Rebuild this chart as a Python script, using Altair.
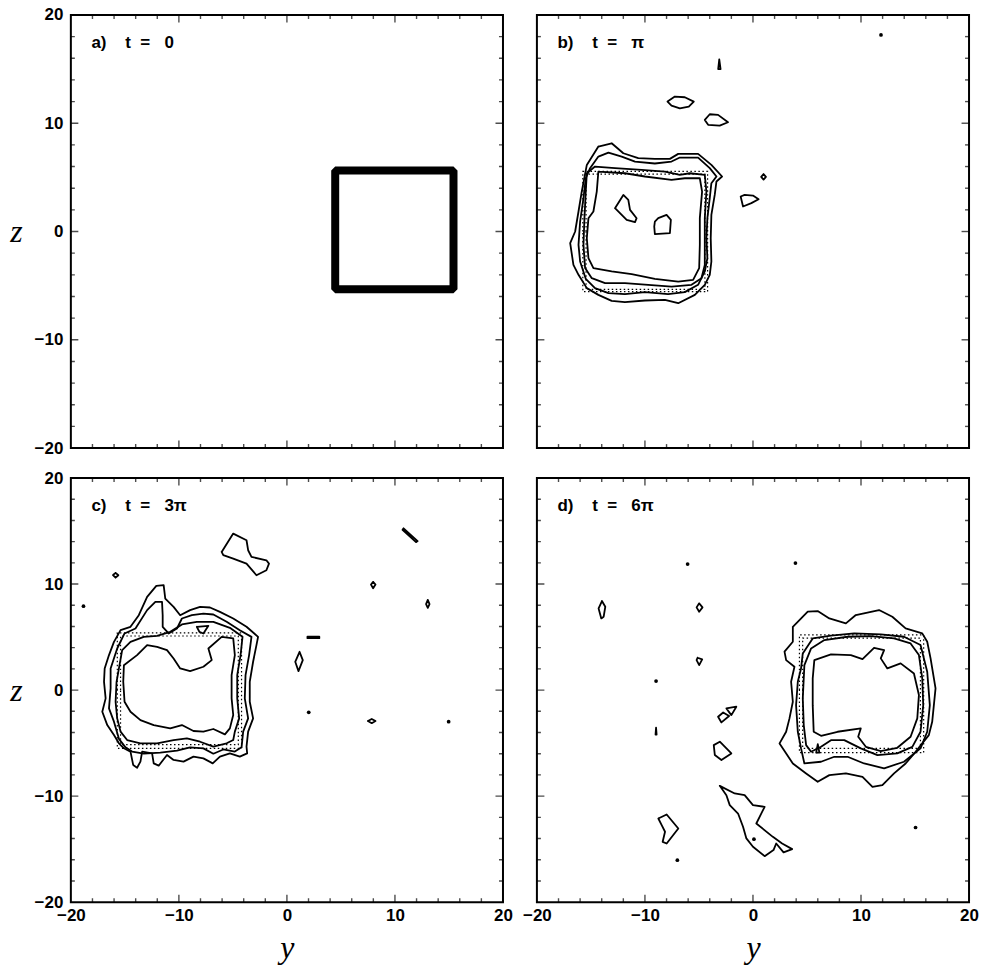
import altair as alt
import pandas as pd

DOMAIN = [-20, 20]
LABEL_VALUES = [-20, -10, 0, 10, 20]
TICK_POS = [-18, -16, -14, -12, -10, -8, -6, -4, -2, 0, 2, 4, 6, 8, 10, 12, 14, 16, 18]
MAJOR_TICKS = [-10, 0, 10]

PANEL_TEXT = {
    "a": "a)\u00a0\u00a0\u00a0\u00a0t\u00a0\u00a0=\u00a0\u00a0\u00a00",
    "b": "b)\u00a0\u00a0\u00a0\u00a0t\u00a0\u00a0=\u00a0\u00a0\u00a0\u03c0",
    "c": "c)\u00a0\u00a0\u00a0\u00a0t\u00a0\u00a0=\u00a0\u00a0\u00a03\u03c0",
    "d": "d)\u00a0\u00a0\u00a0\u00a0t\u00a0\u00a0=\u00a0\u00a0\u00a06\u03c0",
}
LABEL_POS = (-18.1, 17.4)

# ---------------- panel a (t = 0) ----------------
A_SQUARE = [(4.47, 0.0), (4.47, 5.63), (15.42, 5.63), (15.42, -5.33), (4.47, -5.33), (4.47, 0.0)]

# ---------------- panel b (t = pi) ----------------
B_RING1 = [(-14.31, 7.85), (-13.08, 8.15), (-12.0, 7.23), (-10.62, 6.77), (-9.08, 6.71), (-7.69, 6.71),
           (-6.92, 7.17), (-5.08, 7.17), (-3.85, 6.15), (-2.86, 5.08), (-3.38, 4.62), (-3.54, 3.38),
           (-3.85, 1.54), (-3.91, -0.62), (-3.85, -2.77), (-4.0, -4.0), (-4.46, -4.92), (-5.38, -5.85),
           (-6.92, -6.62), (-8.15, -6.31), (-10.0, -6.37), (-11.85, -6.52), (-13.08, -6.4), (-14.31, -5.85),
           (-15.38, -5.23), (-16.15, -4.0), (-16.62, -3.08), (-16.92, -1.08), (-16.46, 0.0), (-16.15, 1.85),
           (-15.85, 3.69), (-15.38, 6.15)]
B_RING2 = [(-15.08, 5.85), (-14.31, 6.92), (-13.38, 7.29), (-12.15, 6.92), (-10.92, 6.46), (-9.08, 6.28),
           (-7.54, 6.46), (-6.77, 6.83), (-5.08, 6.83), (-4.0, 5.85), (-3.38, 5.08), (-3.85, 4.46),
           (-4.0, 3.08), (-4.22, 1.23), (-4.31, -0.62), (-4.22, -2.46), (-4.46, -3.69), (-5.08, -4.92),
           (-6.31, -5.6), (-7.85, -5.78), (-10.0, -5.6), (-11.85, -5.78), (-13.38, -5.69), (-14.62, -5.23),
           (-15.48, -4.37), (-16.0, -2.77), (-16.15, -1.23), (-16.0, 0.92), (-15.69, 3.08), (-15.48, 4.92)]
B_RING3 = [(-15.38, 5.38), (-14.62, 6.0), (-12.77, 5.85), (-10.31, 5.69), (-8.15, 5.54), (-6.77, 5.23),
           (-5.85, 5.38), (-4.46, 5.23), (-4.31, 3.69), (-4.46, 1.23), (-4.46, -0.62), (-4.46, -3.08),
           (-4.77, -4.31), (-5.69, -4.92), (-7.54, -5.08), (-9.69, -4.92), (-11.85, -4.77), (-13.69, -4.77),
           (-14.92, -4.31), (-15.54, -3.38), (-15.69, -1.23), (-15.6, 1.23), (-15.48, 3.69)]
B_RING4 = [(-14.31, 5.54), (-11.85, 5.38), (-10.0, 5.08), (-7.54, 4.77), (-6.31, 4.92), (-4.92, 4.92),
           (-4.71, 3.69), (-4.92, 1.23), (-4.92, -1.23), (-4.98, -3.38), (-5.54, -4.46), (-6.92, -4.62),
           (-9.08, -4.37), (-11.23, -3.94), (-13.08, -3.69), (-14.77, -3.38), (-15.23, -2.46), (-15.38, -0.62),
           (-15.23, 1.23), (-14.77, 1.85), (-14.46, 3.69)]
B_ISLE1 = [(-12.77, 2.15), (-12.0, 3.38), (-11.54, 2.92), (-11.38, 2.0), (-10.77, 1.23), (-10.92, 0.86), (-11.69, 1.08)]
B_ISLE2 = [(-9.08, 0.92), (-8.77, 1.23), (-8.0, 1.54), (-7.6, 1.08), (-7.69, -0.15), (-9.08, -0.25), (-9.14, 0.46)]
B_ISLE3 = [(-7.91, 12.0), (-7.23, 12.46), (-6.31, 12.4), (-5.48, 12.0), (-5.94, 11.54), (-6.77, 11.38), (-7.54, 11.63)]
B_ISLE4 = [(-4.46, 10.31), (-4.0, 10.83), (-3.23, 10.77), (-2.31, 10.09), (-3.08, 9.78), (-4.15, 9.85)]
B_ISLE5 = [(-1.14, 3.23), (-0.77, 3.38), (0.0, 3.32), (0.52, 2.98), (-0.15, 2.62), (-0.92, 2.31)]
B_ISLE6 = [(0.98, 5.3), (1.2, 5.05), (0.98, 4.8), (0.76, 5.05)]
B_ISLE7 = [(-3.12, 15.9), (-3.0, 15.0), (-3.22, 15.0)]
B_BOX1 = [(-15.75, 0.0), (-15.75, 5.55), (-4.2, 5.55), (-4.2, -5.55), (-15.75, -5.55), (-15.75, 0.0)]
B_BOX2 = [(-15.45, 0.0), (-15.45, 5.3), (-4.45, 5.3), (-4.45, -5.35), (-15.45, -5.35), (-15.45, 0.0)]
B_DOTS = [(11.85, 18.15)]

# ---------------- panel c (t = 3 pi) ----------------
C_RING1 = [(-12.94, 8.79), (-12.09, 9.83), (-11.41, 9.89), (-11.26, 8.63), (-10.49, 7.85), (-9.88, 7.06),
           (-8.96, 7.54), (-8.04, 7.85), (-7.12, 7.79), (-6.2, 7.38), (-4.97, 6.75), (-3.74, 5.97),
           (-2.67, 5.02), (-2.82, 4.24), (-3.13, 2.67), (-3.44, 0.78), (-3.44, -1.1), (-3.13, -2.67),
           (-3.59, -3.92), (-3.74, -5.34), (-3.68, -5.97), (-4.36, -6.28), (-5.28, -5.97), (-6.2, -6.28),
           (-6.87, -6.91), (-7.73, -6.44), (-8.65, -6.28), (-9.57, -6.75), (-10.49, -6.59), (-11.1, -6.12),
           (-11.87, -7.13), (-12.33, -6.91), (-12.48, -5.97), (-13.4, -5.81), (-13.56, -6.75), (-13.87, -7.32),
           (-14.23, -7.06), (-14.48, -5.81), (-15.09, -5.49), (-15.55, -5.02), (-16.01, -4.24), (-16.63, -3.3),
           (-17.09, -2.04), (-16.78, -0.78), (-16.93, 0.78), (-16.87, 2.04), (-16.47, 3.3), (-16.01, 4.55),
           (-15.4, 5.65), (-14.48, 5.97), (-13.71, 7.06)]
C_RING2 = [(-15.71, 3.92), (-15.03, 5.34), (-14.02, 5.81), (-12.94, 7.54), (-12.18, 8.32), (-11.56, 8.32),
           (-11.5, 7.06), (-11.5, 5.97), (-10.95, 5.34), (-10.18, 5.81), (-9.72, 6.75), (-8.8, 7.06),
           (-7.73, 7.22), (-6.81, 7.13), (-5.58, 6.44), (-4.36, 5.65), (-3.28, 5.02), (-3.5, 3.3),
           (-3.83, 1.41), (-3.9, -0.78), (-3.59, -2.67), (-4.05, -3.92), (-4.2, -5.4), (-4.82, -5.8),
           (-5.89, -5.6), (-6.81, -6.0), (-7.73, -5.5), (-8.96, -5.4), (-10.18, -5.7), (-11.72, -5.9),
           (-13.25, -6.0), (-14.33, -5.8), (-14.94, -5.4), (-15.55, -4.6), (-16.01, -2.98), (-16.47, -1.73),
           (-16.32, 0.16), (-16.32, 2.04)]
C_RING3 = [(-15.55, 2.04), (-15.25, 3.77), (-14.48, 4.55), (-13.25, 5.02), (-12.02, 5.12), (-10.8, 5.49),
           (-9.72, 6.19), (-8.34, 6.44), (-6.81, 6.44), (-5.28, 5.87), (-4.11, 5.02), (-4.29, 3.3),
           (-4.6, 1.41), (-4.6, -0.78), (-4.42, -2.67), (-4.82, -3.92), (-4.97, -4.71), (-5.58, -5.02),
           (-6.81, -5.34), (-8.04, -4.87), (-9.26, -4.55), (-10.49, -4.71), (-12.02, -5.02), (-13.56, -5.02),
           (-14.79, -4.71), (-15.4, -3.92), (-15.71, -2.67), (-15.86, -1.1), (-15.77, 0.78)]
C_RING4 = [(-15.09, 2.35), (-13.87, 3.3), (-12.94, 4.24), (-12.02, 4.08), (-11.1, 3.77), (-10.49, 2.98),
           (-9.88, 2.04), (-8.96, 1.79), (-7.73, 2.2), (-6.96, 2.83), (-7.27, 3.92), (-6.04, 5.02),
           (-4.97, 4.87), (-4.82, 3.3), (-5.12, 1.41), (-5.12, -0.78), (-4.97, -2.35), (-5.28, -3.61),
           (-5.74, -4.18), (-6.81, -3.67), (-7.73, -3.92), (-8.65, -3.86), (-9.72, -3.3), (-10.8, -3.61),
           (-12.33, -3.3), (-13.56, -2.83), (-14.48, -2.04), (-15.03, -1.1), (-15.15, 0.78)]
C_ISLE1 = [(-8.34, 5.97), (-7.27, 6.06), (-7.73, 5.34), (-8.1, 5.49)]
C_ISLE2 = [(-6.04, 13.03), (-4.97, 14.76), (-3.74, 14.13), (-3.59, 13.19), (-3.28, 12.56), (-1.9, 12.24),
           (-1.66, 11.93), (-1.9, 11.3), (-2.82, 10.83), (-3.74, 11.93), (-4.97, 12.4), (-5.89, 12.72)]
C_ISLE3 = [(-15.86, 11.05), (-15.6, 10.83), (-15.86, 10.6), (-16.1, 10.85)]
C_ISLE4 = [(10.8, 15.25), (12.1, 14.05), (11.95, 13.95), (10.7, 15.12)]
C_ISLE5 = [(7.98, 10.2), (8.2, 9.95), (7.98, 9.6), (7.78, 9.95)]
C_ISLE6 = [(13.04, 8.5), (13.2, 8.1), (13.04, 7.75), (12.88, 8.1)]
C_ISLE7 = [(1.9, 5.03), (3.0, 5.03), (3.0, 4.9), (1.9, 4.9)]
C_ISLE8 = [(1.17, 3.61), (1.47, 2.83), (1.07, 1.79), (0.77, 2.67)]
C_ISLE9 = [(7.5, -2.92), (7.85, -2.72), (8.2, -2.92), (7.85, -3.12)]
C_BOX1 = [(-15.7, 0.0), (-15.7, 5.4), (-4.2, 5.4), (-4.2, -5.5), (-15.7, -5.5), (-15.7, 0.0)]
C_BOX2 = [(-15.4, 0.0), (-15.4, 5.1), (-4.5, 5.1), (-4.5, -5.15), (-15.4, -5.15), (-15.4, 0.0)]
C_DOTS = [(-18.83, 7.91), (2.02, -2.1), (14.97, -2.98)]

# ---------------- panel d (t = 6 pi) ----------------
D_RING1 = [(3.69, 5.97), (5.07, 7.39), (5.99, 7.45), (7.07, 6.76), (8.6, 6.29), (9.52, 7.08), (11.67, 7.55),
           (12.9, 6.92), (14.13, 5.82), (15.67, 5.35), (16.13, 4.56), (16.44, 2.99), (16.9, 0.16),
           (16.59, -2.99), (16.28, -4.25), (15.05, -5.82), (14.13, -6.92), (13.06, -7.86), (11.98, -8.96),
           (11.06, -9.12), (10.14, -8.18), (8.6, -7.86), (7.07, -8.02), (5.99, -8.65), (4.92, -7.86),
           (3.69, -6.92), (2.46, -5.03), (3.07, -3.93), (3.38, -2.67), (3.69, -1.1), (3.53, 0.79),
           (3.84, 2.2), (3.07, 2.83), (2.92, 3.62), (3.69, 4.56)]
D_RING2 = [(4.45, 2.04), (4.61, 3.46), (5.53, 4.87), (7.22, 5.13), (9.37, 5.35), (11.83, 5.25), (13.98, 5.03),
           (15.51, 4.25), (16.13, 1.73), (16.37, -1.42), (16.13, -3.93), (15.51, -5.5), (13.98, -6.76),
           (12.14, -7.39), (10.29, -6.92), (8.76, -6.29), (7.53, -6.29), (6.3, -6.76), (4.76, -6.92),
           (4.45, -5.5), (4.15, -3.93), (3.99, -1.42), (4.15, 0.79)]
D_RING3 = [(4.76, 2.36), (5.38, 3.93), (6.61, 4.72), (8.76, 5.03), (10.91, 5.09), (13.06, 4.87), (14.59, 4.4),
           (15.36, 3.3), (15.67, 1.1), (15.76, -1.42), (15.51, -3.93), (14.75, -5.35), (13.36, -5.97),
           (11.52, -6.13), (9.98, -5.5), (8.45, -4.72), (7.22, -4.72), (6.3, -5.35), (5.38, -5.82),
           (4.92, -5.19), (4.7, -3.3), (4.61, -0.79)]
D_RING4 = [(5.68, 2.83), (7.22, 3.36), (9.06, 3.3), (10.14, 2.92), (11.21, 3.99), (12.14, 3.77), (11.83, 2.99),
           (12.44, 2.04), (13.67, 2.52), (14.9, 1.57), (15.36, -0.47), (15.21, -2.67), (14.59, -4.4),
           (13.36, -5.44), (11.83, -5.75), (10.45, -5.35), (9.74, -4.4), (9.98, -3.62), (7.83, -3.93),
           (6.3, -4.31), (5.62, -3.93), (5.53, -1.42), (5.53, 1.1)]
D_ISLE1 = [(5.85, -5.9), (6.0, -5.1), (6.15, -5.9)]
D_ISLE2 = [(-13.98, 8.4), (-13.67, 7.86), (-13.82, 6.92), (-14.04, 6.76), (-14.29, 7.7)]
D_ISLE3 = [(-4.98, 8.18), (-4.67, 7.8), (-4.98, 7.39), (-5.22, 7.8)]
D_ISLE4 = [(-5.13, 3.05), (-4.7, 2.89), (-4.98, 2.36), (-5.22, 2.83)]
D_ISLE5 = [(-3.23, -2.52), (-2.76, -2.11), (-2.21, -2.45), (-2.92, -3.05)]
D_ISLE6 = [(-2.46, -1.73), (-1.54, -1.57), (-2.0, -2.36)]
D_ISLE7 = [(-3.63, -5.19), (-3.07, -4.87), (-2.0, -5.97), (-2.92, -6.6), (-3.53, -6.13)]
D_ISLE8 = [(-3.07, -9.03), (-1.69, -9.75), (-0.77, -9.91), (0.0, -10.85), (1.08, -11.01), (0.31, -12.58),
           (1.84, -13.84), (2.7, -14.47), (3.63, -15.0), (2.83, -15.31), (2.15, -14.47), (1.9, -15.09),
           (1.08, -15.66), (0.0, -14.78), (-0.61, -13.99), (-0.92, -12.89), (-1.38, -11.64), (-2.15, -10.85),
           (-2.46, -9.91)]
D_ISLE9 = [(-8.76, -12.11), (-7.99, -11.73), (-6.91, -13.05), (-7.99, -14.47), (-8.36, -14.31),
           (-8.14, -13.36), (-8.45, -12.74)]
D_ISLE10 = [(-8.97, -3.55), (-8.92, -4.2), (-9.02, -4.2)]
D_BOX1 = [(4.3, 0.0), (4.3, 5.2), (15.8, 5.2), (15.8, -5.9), (4.3, -5.9), (4.3, 0.0)]
D_BOX2 = [(4.6, 0.0), (4.6, 4.9), (15.5, 4.9), (15.5, -5.5), (4.6, -5.5), (4.6, 0.0)]
D_DOTS = [(-6.05, 11.89), (3.93, 11.98), (-8.97, 0.85), (0.09, -14.06), (-7.0, -16.04), (15.05, -12.96)]

PANELS = {
    "a": {"thick": [A_SQUARE], "closed": [], "dotted": [], "dots": []},
    "b": {"thick": [],
          "closed": [B_RING1, B_RING2, B_RING3, B_RING4, B_ISLE1, B_ISLE2, B_ISLE3, B_ISLE4,
                     B_ISLE5, B_ISLE6, B_ISLE7],
          "dotted": [B_BOX1, B_BOX2], "dots": B_DOTS},
    "c": {"thick": [],
          "closed": [C_RING1, C_RING2, C_RING3, C_RING4, C_ISLE1, C_ISLE2, C_ISLE3, C_ISLE4,
                     C_ISLE5, C_ISLE6, C_ISLE7, C_ISLE8, C_ISLE9],
          "dotted": [C_BOX1, C_BOX2], "dots": C_DOTS},
    "d": {"thick": [],
          "closed": [D_RING1, D_RING2, D_RING3, D_RING4, D_ISLE1, D_ISLE2, D_ISLE3, D_ISLE4,
                     D_ISLE5, D_ISLE6, D_ISLE7, D_ISLE8, D_ISLE9, D_ISLE10],
          "dotted": [D_BOX1, D_BOX2], "dots": D_DOTS},
}

W = 433
H_TOP = 434
H_BOTTOM = 425


def path_frame(paths, close):
    rows = []
    for pid, pts in enumerate(paths):
        seq = list(pts) + ([pts[0]] if close else [])
        for k, (yy, zz) in enumerate(seq):
            rows.append({"pid": pid, "ord": k, "yc": yy, "zc": zz})
    return pd.DataFrame(rows)


def tick_frames():
    v_rows, h_rows = [], []
    for p in TICK_POS:
        ln = 15 if p in MAJOR_TICKS else 8
        for edge in DOMAIN:
            v_rows.append({"yc": p, "zc": edge, "len": ln})
            h_rows.append({"yc": edge, "zc": p, "len": ln})
    return pd.DataFrame(v_rows), pd.DataFrame(h_rows)


TICKS_V, TICKS_H = tick_frames()

LABEL_STYLE = dict(labelFont="Liberation Sans", labelFontWeight="bold", labelFontSize=17,
                   labelColor="black", labelFlush=False, labelOverlap=False,
                   ticks=False, domain=False, grid=False)


def x_axis():
    return alt.Axis(values=LABEL_VALUES, labelPadding=5, title="y",
                    titleFont="Liberation Serif", titleFontStyle="italic", titleFontWeight="normal",
                    titleFontSize=32, titleColor="black", titlePadding=9, **LABEL_STYLE)


def y_axis(h):
    return alt.Axis(values=LABEL_VALUES, labelPadding=8, title="z",
                    titleFont="Liberation Serif", titleFontStyle="italic", titleFontWeight="normal",
                    titleFontSize=32, titleColor="black", titleAngle=0, titleX=-55, titleY=h / 2,
                    titleAlign="center", titleBaseline="middle", **LABEL_STYLE)


def panel(key, h, show_x, show_y):
    spec = PANELS[key]
    xs = alt.Scale(domain=DOMAIN, nice=False, zero=False)
    ys = alt.Scale(domain=DOMAIN, nice=False, zero=False)
    xax = x_axis() if show_x else None
    yax = y_axis(h) if show_y else None

    def enc():
        return dict(x=alt.X("yc:Q", scale=xs, axis=xax), y=alt.Y("zc:Q", scale=ys, axis=yax))

    layers = []
    if spec["thick"]:
        layers.append(alt.Chart(path_frame(spec["thick"], False)).mark_line(
            color="black", strokeWidth=8, strokeJoin="bevel", strokeCap="butt"
        ).encode(detail="pid:N", order="ord:Q", **enc()))
    if spec["dotted"]:
        layers.append(alt.Chart(path_frame(spec["dotted"], False)).mark_line(
            color="black", strokeWidth=1.2, strokeDash=[1.5, 2.5]
        ).encode(detail="pid:N", order="ord:Q", **enc()))
    if spec["closed"]:
        layers.append(alt.Chart(path_frame(spec["closed"], True)).mark_line(
            color="black", strokeWidth=1.8, strokeJoin="round", strokeCap="round"
        ).encode(detail="pid:N", order="ord:Q", **enc()))
    if spec["dots"]:
        dots = pd.DataFrame(spec["dots"], columns=["yc", "zc"])
        layers.append(alt.Chart(dots).mark_circle(color="black", size=14, opacity=1).encode(**enc()))
    layers.append(alt.Chart(TICKS_V).mark_tick(
        orient="vertical", color="black", thickness=1.4, clip=True
    ).encode(size=alt.Size("len:Q", scale=None), **enc()))
    layers.append(alt.Chart(TICKS_H).mark_tick(
        orient="horizontal", color="black", thickness=1.4, clip=True
    ).encode(size=alt.Size("len:Q", scale=None), **enc()))
    lbl = pd.DataFrame([{"yc": LABEL_POS[0], "zc": LABEL_POS[1], "txt": PANEL_TEXT[key]}])
    layers.append(alt.Chart(lbl).mark_text(
        align="left", baseline="middle", font="Liberation Sans", fontWeight="bold",
        fontSize=17, color="black"
    ).encode(text="txt:N", **enc()))
    return alt.layer(*layers).properties(width=W, height=h)


top = alt.hconcat(panel("a", H_TOP, False, True), panel("b", H_TOP, False, False),
                  spacing=34, bounds="flush")
bottom = alt.hconcat(panel("c", H_BOTTOM, True, True), panel("d", H_BOTTOM, True, False),
                     spacing=34, bounds="flush")
chart = (
    alt.vconcat(top, bottom, spacing=11)
    .properties(padding={"left": 8, "top": 4, "right": 5, "bottom": 5})
    .configure(background="white")
    .configure_view(stroke="black", strokeWidth=2)
)

chart.save("out.html", embed_options={"renderer": "svg", "actions": False})
